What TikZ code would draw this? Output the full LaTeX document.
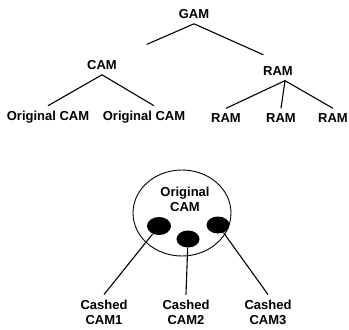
\documentclass[tikz,border=0pt]{standalone}
\usepackage{fontspec}
\setmainfont{Liberation Sans}
\usepackage{tikz}
\usetikzlibrary{shapes.geometric}
\tikzset{
  lbl/.style={font=\fontsize{13}{15}\selectfont\bfseries, inner sep=5pt, align=center},
  cell/.style={ellipse, fill=black, inner sep=0pt, minimum width=24pt, minimum height=18pt},
  link/.style={line width=1.1pt}
}
\begin{document}
\begin{tikzpicture}[x=1pt,y=-1pt]
  \useasboundingbox (0,0) rectangle (349,330);
  % hierarchy
  \node[lbl] (gam) at (194,14) {GAM};
  \node[lbl] (cam) at (102,65) {CAM};
  \node[lbl] (ram) at (278,71) {RAM};
  \node[lbl] (orig1) at (48,117) {Original CAM};
  \node[lbl] (orig2) at (144,117) {Original CAM};
  \node[lbl] (ram1) at (226,118) {RAM};
  \node[lbl] (ram2) at (281,118) {RAM};
  \node[lbl] (ram3) at (333,118) {RAM};
  \draw[link, shorten >=27pt] (gam.south) -- (cam.north east);
  \draw[link, shorten >=16pt] (gam.south) -- (ram.north);
  \draw[link] (cam.south) -- (orig1.north);
  \draw[link] (cam.south) -- ([xshift=10pt]orig2.north);
  \draw[link] ([xshift=7pt]ram.south) -- (ram1.north);
  \draw[link] ([xshift=7pt]ram.south) -- (ram2.north);
  \draw[link] ([xshift=7pt]ram.south) -- (ram3.north);
  % original CAM with its cashed copies
  \node[ellipse, draw, line width=0.9pt, minimum width=98pt, minimum height=86pt] (ring) at (182,213) {};
  \node[lbl] (otext) at (185,199) {Original\\CAM};
  \node[cell] (c1) at (159,226) {};
  \node[cell, minimum width=23pt, minimum height=17pt] (c2) at (188,239) {};
  \node[cell, minimum width=23pt, minimum height=17pt] (c3) at (218,225) {};
  \node[lbl] (cash1) at (104,312) {Cashed\\CAM1};
  \node[lbl] (cash2) at (186,312) {Cashed\\CAM2};
  \node[lbl] (cash3) at (268,312) {Cashed\\CAM3};
  \draw[link] (c1) -- (cash1.north);
  \draw[link] (c2) -- (cash2.north);
  \draw[link] (c3) -- (cash3.north);
\end{tikzpicture}
\end{document}
